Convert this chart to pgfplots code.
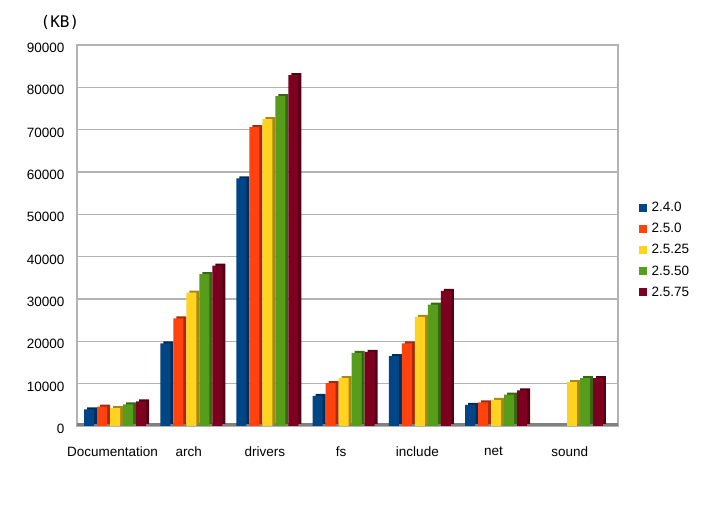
\documentclass[border=0pt]{standalone}
\usepackage{fontspec}
\setmainfont{Liberation Sans}
\newfontfamily\kbfont{DejaVu Sans Mono}
\usepackage{pgfplots}
\pgfplotsset{compat=1.18}
\definecolor{cA}{HTML}{004586}
\definecolor{cB}{HTML}{FF420E}
\definecolor{cC}{HTML}{FFD320}
\definecolor{cD}{HTML}{579D1C}
\definecolor{cE}{HTML}{7E0021}
\definecolor{gridc}{HTML}{B3B3B3}
\pgfplotstableread{
x A B C D E
0 3900 4600 4200 5100 5800
1 19500 25400 31500 35900 37900
2 58500 70600 72500 77900 82900
3 7100 10100 11300 17300 17500
4 16500 19500 25800 28700 31900
5 5000 5600 6200 7400 8400
}\datamain
\pgfplotstableread{
x C D E
6 10300 11300 11300
}\datasound
\begin{document}
\begin{tikzpicture}
\path[use as bounding box] (0,0) rectangle (713bp,512bp);
\node[font=\kbfont\fontsize{16bp}{19bp}\selectfont] at (60bp,490bp) {(KB)};
\begin{axis}[
  at={(77bp,86bp)}, anchor=south west,
  scale only axis, width=541bp, height=381bp,
  ybar, bar width=10bp,
  xmin=-0.5, xmax=6.6, ymin=0, ymax=90000,
  xtick={0,1,2,3,4,5,6},
  xticklabels={Documentation,arch,drivers,fs,include,net,sound},
  ytick={0,10000,20000,30000,40000,50000,60000,70000,80000,90000},
  scaled y ticks=false,
  /pgf/number format/1000 sep={},
  /pgf/number format/assume math mode=true,
  major tick length=0pt,
  ymajorgrids,
  grid style={draw=gridc, line width=1.3bp},
  axis line style={draw=gridc, line width=1.3bp},
  tick label style={font=\fontsize{13.5bp}{16bp}\selectfont, text=black},
  yticklabel style={xshift=-9bp, yshift=-3bp},
  xticklabel style={yshift=-17bp, xshift=-2.5bp},
  legend style={draw=none, fill=none, at={(1.0388,0.462)}, anchor=west,
    font=\fontsize{13.5bp}{16bp}\selectfont, row sep=6.2bp, inner sep=0pt},
  legend cell align=left,
  legend image code/.code={\fill[#1,draw=none] (0bp,-4bp) rectangle (8bp,4bp); \path (10.5bp,0bp);},
  shadow/.style={draw=none, forget plot, xshift=3bp, yshift=2bp},
]
\draw[line width=5bp, draw=gray] (rel axis cs:0,0) -- (rel axis cs:1,0);
% series 2.4.0
\addplot[shadow, fill=cA!65!black, bar shift=-26bp] table[x=x,y=A] {\datamain};
\addplot[fill=cA, draw=none, bar shift=-26bp] table[x=x,y=A] {\datamain};
% series 2.5.0
\addplot[shadow, fill=cB!65!black, bar shift=-13bp] table[x=x,y=B] {\datamain};
\addplot[fill=cB, draw=none, bar shift=-13bp] table[x=x,y=B] {\datamain};
% series 2.5.25
\addplot[shadow, fill=cC!65!black, bar shift=0bp] table[x=x,y=C] {\datamain};
\addplot[shadow, fill=cC!65!black, bar shift=0bp] table[x=x,y=C] {\datasound};
\addplot[fill=cC, draw=none, bar shift=0bp] table[x=x,y=C] {\datamain};
\addplot[fill=cC, draw=none, bar shift=0bp, forget plot] table[x=x,y=C] {\datasound};
% series 2.5.50
\addplot[shadow, fill=cD!65!black, bar shift=13bp] table[x=x,y=D] {\datamain};
\addplot[shadow, fill=cD!65!black, bar shift=13bp] table[x=x,y=D] {\datasound};
\addplot[fill=cD, draw=none, bar shift=13bp] table[x=x,y=D] {\datamain};
\addplot[fill=cD, draw=none, bar shift=13bp, forget plot] table[x=x,y=D] {\datasound};
% series 2.5.75
\addplot[shadow, fill=cE!65!black, bar shift=26bp] table[x=x,y=E] {\datamain};
\addplot[shadow, fill=cE!65!black, bar shift=26bp] table[x=x,y=E] {\datasound};
\addplot[fill=cE, draw=none, bar shift=26bp] table[x=x,y=E] {\datamain};
\addplot[fill=cE, draw=none, bar shift=26bp, forget plot] table[x=x,y=E] {\datasound};
\legend{2.4.0,2.5.0,2.5.25,2.5.50,2.5.75}
\end{axis}
\end{tikzpicture}
\end{document}
